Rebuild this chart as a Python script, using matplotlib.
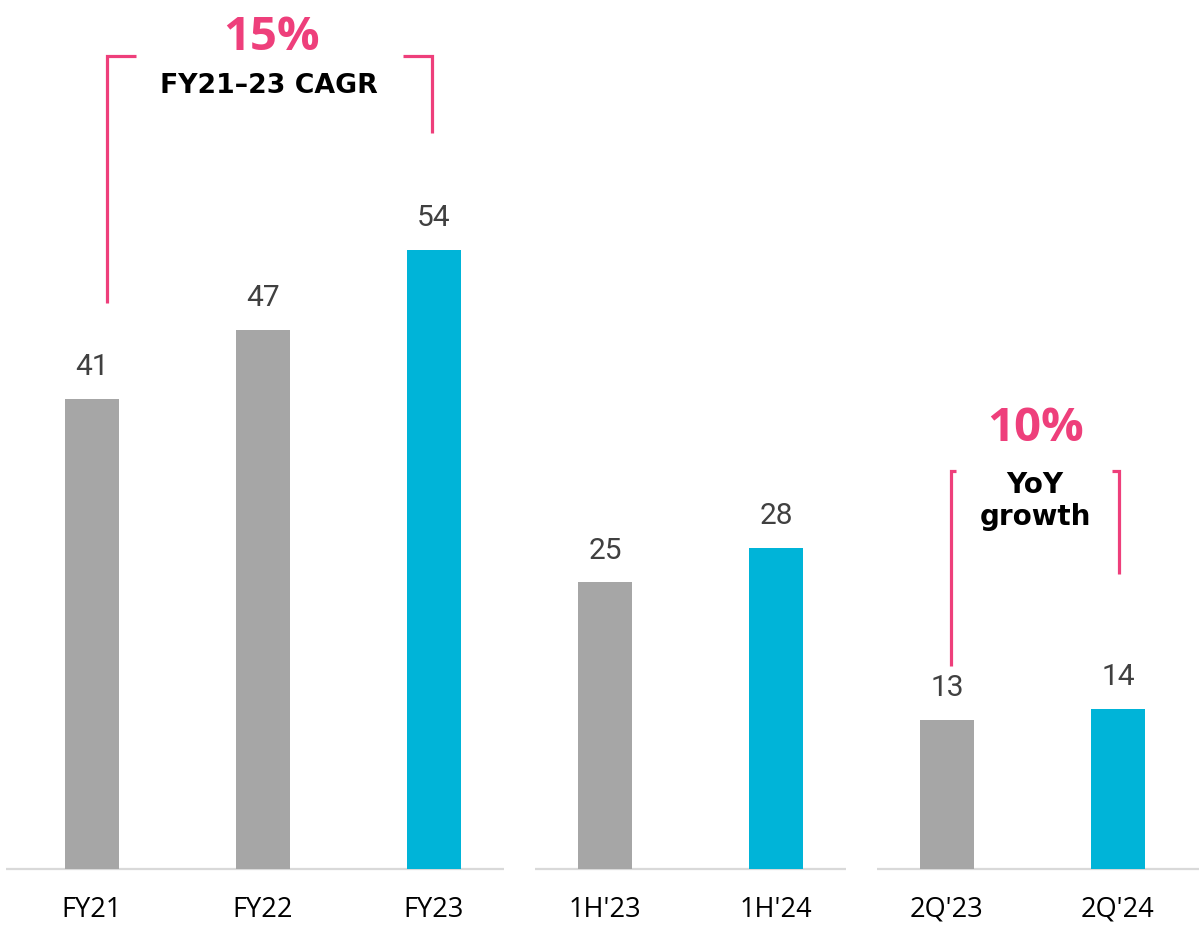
import matplotlib.pyplot as plt

labels = ["FY21", "FY22", "FY23", "1H'23", "1H'24", "2Q'23", "2Q'24"]
values = [41, 47, 54, 25, 28, 13, 14]
highlight = [False, False, True, False, True, False, True]
groups = [(0, 2), (3, 4), (5, 6)]

GREY = '#A6A6A6'
BLUE = '#00B4D8'
PINK = '#EE3F7B'

fig = plt.figure(figsize=(11.99, 9.25), dpi=100)
ax = fig.add_axes([0, 0, 1, 1])
ax.set_xlim(-0.538, 6.474)
ax.set_ylim(-4.89, 75.83)
ax.axis('off')

x = list(range(len(values)))
colors = [BLUE if h else GREY for h in highlight]
ax.bar(x, values, width=0.316, color=colors, zorder=2)

for xi, v in zip(x, values):
    ax.annotate(str(v), (xi, v), xytext=(0, 23), textcoords='offset points',
                ha='center', va='center', fontsize=21.5, color='#404040',
                family='Roboto')
    ax.text(xi, -3.55, labels[xi], ha='center', va='center', fontsize=19.5,
            color='black', family='Open Sans')

# separate baseline for each group of bars
for gi, (a, b) in enumerate(groups):
    left = a - 0.5 if gi == 0 else a - 0.41
    right = b + 0.6 if gi == len(groups) - 1 else b + 0.41
    ax.plot([left, right], [0, 0], color='#D9D9D9', lw=1.6, zorder=1,
            solid_capstyle='butt')

# CAGR bracket over FY21-FY23
bk = dict(color=PINK, lw=2.3, solid_capstyle='butt', solid_joinstyle='miter')
ax.plot([0.088, 0.088, 0.257], [49.4, 70.9, 70.9], **bk)
ax.plot([1.819, 1.988, 1.988], [70.9, 70.9, 64.2], **bk)
ax.text(1.047, 72.6, '15%', ha='center', va='center', fontsize=34,
        fontweight='bold', color=PINK, family='Open Sans')
ax.text(1.035, 68.3, 'FY21\u201323 CAGR', ha='center', va='center',
        fontsize=19.3, fontweight='bold', color='black', family='DejaVu Sans')

# YoY bracket over 2Q bars
ax.plot([5.023, 5.023, 5.053], [17.7, 34.7, 34.7], **bk)
ax.plot([5.965, 6.006, 6.006], [34.7, 34.7, 25.7], **bk)
ax.text(5.52, 38.4, '10%', ha='center', va='center', fontsize=34,
        fontweight='bold', color=PINK, family='Open Sans')
ax.text(5.515, 32.1, 'YoY\ngrowth', ha='center', va='center', fontsize=20,
        fontweight='bold', color='black', family='DejaVu Sans', linespacing=1.15)

fig.savefig('out.png', dpi=100)
